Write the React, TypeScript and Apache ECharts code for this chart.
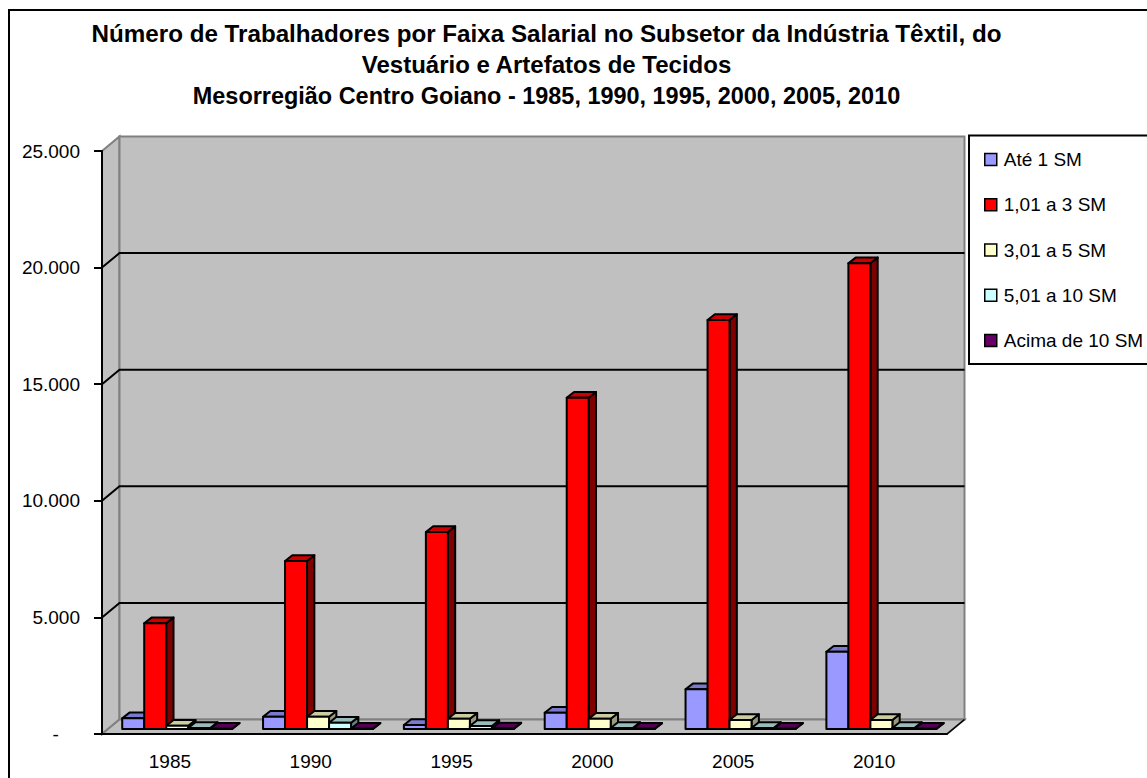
import React, { useEffect, useRef } from "react";
import * as echarts from "echarts";

const categories = ["1985", "1990", "1995", "2000", "2005", "2010"];
const ate1 = [459, 528, 171, 700, 1702, 3315];
const de1a3 = [4533, 7204, 8448, 14207, 17539, 19970];
const de3a5 = [141, 528, 442, 442, 386, 386];
const de5a10 = [43, 270, 128, 43, 43, 43];
const acima10 = [10, 15, 20, 8, 8, 8];
const valueTicks = [5000, 10000, 15000, 20000];

const bands = [
  { name: "Até 1 SM", values: ate1, front: "#9999FF", top: "#7A7ACC", side: "#4D4D80" },
  { name: "1,01 a 3 SM", values: de1a3, front: "#FF0000", top: "#CC0000", side: "#800000" },
  { name: "3,01 a 5 SM", values: de3a5, front: "#FFFFCC", top: "#CCCCA3", side: "#999980" },
  { name: "5,01 a 10 SM", values: de5a10, front: "#CCFFFF", top: "#99BBBB", side: "#668080" },
  { name: "Acima de 10 SM", values: acima10, front: "#660066", top: "#520052", side: "#330033" },
];

const titleLine1 = "Número de Trabalhadores por Faixa Salarial no Subsetor da Indústria Têxtil, do";
const titleLine2 = "Vestuário e Artefatos de Tecidos";
const titleLine3 = "Mesorregião Centro Goiano - 1985, 1990, 1995, 2000, 2005, 2010";

const FONT = '"Liberation Sans", Arial, sans-serif';
const WALL_DX = 17.5;
const WALL_DY = 14.5;
const BAR_WIDTH = 22;
const BAR_INSET_X = 4.8;
const BAR_INSET_Y = 5;
const BAR_DX = 7.3;
const BAR_DY = 5.7;
const WALL = "#C0C0C0";
const EDGE = "#808080";

function wallsItem(params: any, api: any) {
  const g = params.coordSys;
  const l = g.x, r = g.x + g.width, t = g.y, b = g.y + g.height;
  const wallStyle = { fill: WALL, stroke: EDGE, lineWidth: 2 };
  const children: any[] = [
    { type: "polygon", shape: { points: [[l, t], [l + WALL_DX, t - WALL_DY], [l + WALL_DX, b - WALL_DY], [l, b]] }, style: wallStyle },
    { type: "polygon", shape: { points: [[l + WALL_DX, t - WALL_DY], [r + WALL_DX, t - WALL_DY], [r + WALL_DX, b - WALL_DY], [l + WALL_DX, b - WALL_DY]] }, style: wallStyle },
    { type: "polygon", shape: { points: [[l, b], [l + WALL_DX, b - WALL_DY], [r + WALL_DX, b - WALL_DY], [r, b]] }, style: wallStyle },
  ];
  valueTicks.forEach((v) => {
    const y = api.coord([0, v])[1];
    children.push({
      type: "polyline",
      shape: { points: [[l, y], [l + WALL_DX, y - WALL_DY], [r + WALL_DX, y - WALL_DY]] },
      style: { fill: "none", stroke: "#000", lineWidth: 2 },
    });
  });
  // right edge of the floor, in black as in the axis frame
  children.push({
    type: "line",
    shape: { x1: r, y1: b, x2: r + WALL_DX, y2: b - WALL_DY },
    style: { stroke: "#000", lineWidth: 1.5 },
  });
  return { type: "group", children };
}

function barItem(seriesPos: number) {
  return (_params: any, api: any) => {
    const p = api.coord([api.value(0), api.value(1)]);
    const p0 = api.coord([api.value(0), 0]);
    const x = p[0] + BAR_INSET_X + (seriesPos - 2.5) * BAR_WIDTH;
    const yTop = p[1] - BAR_INSET_Y;
    const yBase = p0[1] - BAR_INSET_Y;
    const w = BAR_WIDTH;
    const c = bands[seriesPos];
    const st = { stroke: "#000", lineWidth: 2, lineJoin: "round" };
    return {
      type: "group",
      children: [
        { type: "polygon", shape: { points: [[x + w, yBase], [x + w + BAR_DX, yBase - BAR_DY], [x + w + BAR_DX, yTop - BAR_DY], [x + w, yTop]] }, style: { ...st, fill: c.side } },
        { type: "polygon", shape: { points: [[x, yTop], [x + BAR_DX, yTop - BAR_DY], [x + w + BAR_DX, yTop - BAR_DY], [x + w, yTop]] }, style: { ...st, fill: c.top } },
        { type: "rect", shape: { x, y: yTop, width: w, height: yBase - yTop }, style: { ...st, fill: c.front } },
      ],
    };
  };
}

const titleStyle = (fontSize: number) => ({
  fontFamily: FONT,
  fontSize,
  fontWeight: "bold",
  color: "#000",
  lineHeight: 31,
});

export default function App() {
  const ref = useRef<HTMLDivElement>(null);
  useEffect(() => {
    document.body.style.margin = "0";
    const chart = echarts.init(ref.current!, undefined, { renderer: "svg" });
    chart.setOption({
      animation: false,
      backgroundColor: "#FFFFFF",
      textStyle: { fontFamily: FONT },
      title: {
        text: `{a|${titleLine1}}\n{b|${titleLine2}}\n{c|${titleLine3}}`,
        left: 546.5,
        top: 18,
        textAlign: "center",
        padding: 0,
        textStyle: {
          ...titleStyle(24),
          rich: { a: titleStyle(24.2), b: titleStyle(24), c: titleStyle(23.45) },
        },
      },
      grid: { left: 102, top: 151, width: 845, height: 583, containLabel: false },
      xAxis: {
        type: "category",
        data: categories,
        z: 6,
        axisLine: { lineStyle: { color: "#000", width: 2 } },
        axisTick: { length: 8, lineStyle: { color: "#000", width: 2 } },
        axisLabel: { color: "#000", fontSize: 19, fontFamily: FONT, margin: 18, padding: [0, 5, 0, 0] },
      },
      yAxis: {
        type: "value",
        min: 0,
        max: 25000,
        interval: 5000,
        z: 6,
        axisLine: { show: true, lineStyle: { color: "#000", width: 2 } },
        axisTick: { show: true, length: 8, lineStyle: { color: "#000", width: 2 } },
        splitLine: { show: false },
        axisLabel: {
          color: "#000",
          fontSize: 19,
          fontFamily: FONT,
          margin: 22,
          formatter: (v: number) =>
            v === 0 ? "-\u00a0\u00a0\u00a0\u00a0" : String(v).replace(/(\d)(\d{3})$/, "$1.$2"),
        },
      },
      legend: {
        orient: "vertical",
        left: 984,
        top: 150,
        padding: 0,
        itemWidth: 12,
        itemHeight: 12,
        itemGap: 26.25,
        selectedMode: false,
        textStyle: { color: "#000", fontSize: 19, fontFamily: FONT, padding: [0, 0, 0, 2] },
        data: bands.map((b) => ({
          name: b.name,
          icon: "rect",
          itemStyle: { color: b.front, borderColor: "#000", borderWidth: 1.5 },
        })),
      },
      graphic: [
        { type: "rect", z: 10, silent: true, shape: { x: 9, y: 10, width: 1300, height: 900 }, style: { fill: "none", stroke: "#000", lineWidth: 2 } },
        { type: "rect", z: 10, silent: true, shape: { x: 969, y: 135.5, width: 300, height: 228.5 }, style: { fill: "none", stroke: "#000", lineWidth: 2 } },
      ],
      series: [
        {
          type: "custom",
          name: "paredes",
          z: 1,
          silent: true,
          clip: false,
          renderItem: wallsItem,
          data: [[0, 0]],
          encode: { x: 0, y: 1 },
        },
        ...bands.map((b, i) => ({
          type: "custom",
          name: b.name,
          z: 2,
          clip: false,
          itemStyle: { color: b.front },
          renderItem: barItem(i),
          data: categories.map((_, k) => [k, b.values[k]]),
          encode: { x: 0, y: 1 },
        })),
      ],
    });
    return () => chart.dispose();
  }, []);
  return <div ref={ref} style={{ width: 1147, height: 778, overflow: "hidden" }} />;
}
